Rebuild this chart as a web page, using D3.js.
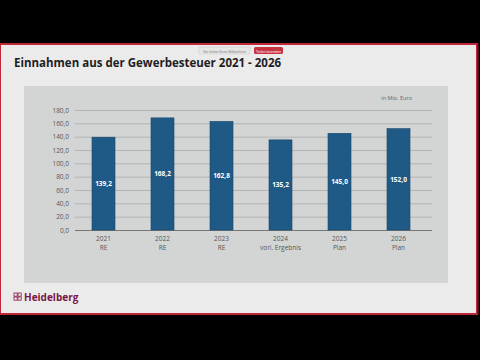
<!DOCTYPE html>
<html><head><meta charset="utf-8">
<script src="https://cdn.jsdelivr.net/npm/d3@7"></script>
<style>html,body{margin:0;padding:0;background:#000;}svg{display:block;}</style>
</head><body>
<svg id="c" width="480" height="360"></svg>
<script>
const years = ["2021", "2022", "2023", "2024", "2025", "2026"];
const subLabels = ["RE", "RE", "RE", "vorl. Ergebnis", "Plan", "Plan"];
const values = [139.2, 168.2, 162.8, 135.2, 145.0, 152.0];
const yTicks = [0, 20, 40, 60, 80, 100, 120, 140, 160, 180];

const fmt = v => v.toFixed(1).replace(".", ",");
const svg = d3.select("#c");
const font = "'Open Sans', 'Noto Sans', sans-serif";

// black background
svg.append("rect").attr("width", 480).attr("height", 360).attr("fill", "#000");
// slide
svg.append("rect").attr("x", 0).attr("y", 44).attr("width", 477).attr("height", 270)
  .attr("fill", "#ebebeb").attr("stroke", "#c0283a").attr("stroke-width", 2);
svg.append("line").attr("x1", 478).attr("x2", 478).attr("y1", 44).attr("y2", 314)
  .attr("stroke", "#5a1028").attr("stroke-width", 1.5);

// sharing buttons
svg.append("rect").attr("x", 199).attr("y", 47).attr("width", 51).attr("height", 7)
  .attr("fill", "#e6e6e6").attr("stroke", "#c8c8c8").attr("stroke-width", 0.5);
svg.append("text").attr("x", 224.5).attr("y", 52.5).attr("text-anchor", "middle")
  .attr("font-family", font).attr("font-size", 3.5).attr("fill", "#777").text("Sie teilen Ihren Bildschirm");
svg.append("rect").attr("x", 254).attr("y", 47).attr("width", 29).attr("height", 7).attr("rx", 1.5)
  .attr("fill", "#c8323f");
svg.append("text").attr("x", 268.5).attr("y", 52.5).attr("text-anchor", "middle")
  .attr("font-family", font).attr("font-size", 3.5).attr("fill", "#fff").text("Teilen beenden");

// title
svg.append("text").attr("x", 14).attr("y", 67).attr("font-family", font).attr("font-weight", 700)
  .attr("font-size", 11.5).attr("fill", "#1e1e1e").text("Einnahmen aus der Gewerbesteuer 2021 - 2026");

// chart panel
svg.append("rect").attr("x", 24).attr("y", 86).attr("width", 424).attr("height", 197).attr("fill", "#d3d5d5");

const x = d3.scaleBand().domain(years).range([74, 428]).paddingInner(0.61).paddingOuter(0.305);
const y = d3.scaleLinear().domain([0, 180]).range([230, 110]);

// gridlines
const yAxis = d3.axisLeft(y).tickValues(yTicks).tickFormat(fmt).tickSize(-(432 - 75)).tickPadding(6);
const ga = svg.append("g").attr("transform", "translate(75,0)").call(yAxis);
ga.select(".domain").remove();
ga.selectAll(".tick line").attr("stroke", "#a9abab").attr("stroke-width", 0.8);
ga.selectAll(".tick text").attr("font-family", font).attr("font-size", 6.5).attr("fill", "#555");
ga.selectAll(".tick").filter(d => d === 0).select("line").attr("stroke", "#777").attr("stroke-width", 1);

// bars
svg.append("g").selectAll("rect").data(values).join("rect")
  .attr("x", (d, i) => x(years[i])).attr("width", x.bandwidth())
  .attr("y", d => y(d)).attr("height", d => y(0) - y(d))
  .attr("fill", "#1f5a86").attr("stroke", "#18476a").attr("stroke-width", 0.6);

svg.append("g").selectAll("text").data(values).join("text")
  .attr("x", (d, i) => x(years[i]) + x.bandwidth() / 2)
  .attr("y", d => (y(d) + y(0)) / 2 + 2.5)
  .attr("text-anchor", "middle").attr("font-family", font).attr("font-weight", 700)
  .attr("font-size", 6.5).attr("fill", "#fff").text(fmt);

// x labels
const xl = svg.append("g").selectAll("text").data(years).join("text")
  .attr("x", d => x(d) + x.bandwidth() / 2).attr("y", 241)
  .attr("text-anchor", "middle").attr("font-family", font).attr("font-size", 6.5).attr("fill", "#555");
xl.append("tspan").text(d => d);
xl.append("tspan").attr("x", d => x(d) + x.bandwidth() / 2).attr("dy", 8.5).text((d, i) => subLabels[i]);

// unit
svg.append("text").attr("x", 412).attr("y", 100).attr("text-anchor", "end").attr("font-family", font)
  .attr("font-size", 5.5).attr("fill", "#666").text("in Mio. Euro");

// logo
const lg = svg.append("g").attr("transform", "translate(14,293)");
[[0,0],[4,0],[0,4],[4,4]].forEach(p => lg.append("rect").attr("x", p[0]).attr("y", p[1])
  .attr("width", 3.2).attr("height", 3.2).attr("fill", "none").attr("stroke", "#8a1a4a").attr("stroke-width", 0.8));
svg.append("text").attr("x", 24).attr("y", 301).attr("font-family", font).attr("font-weight", 700)
  .attr("font-size", 10).attr("fill", "#7a1545").text("Heidelberg");
</script>
</body></html>
